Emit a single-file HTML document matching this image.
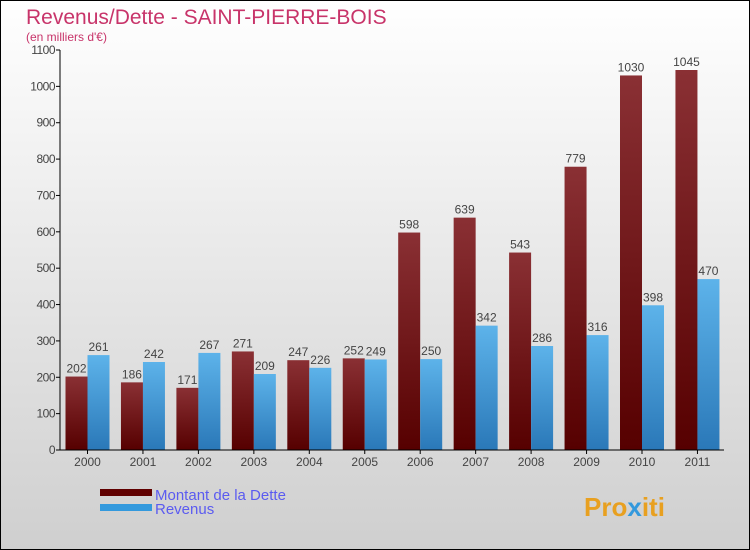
<!DOCTYPE html>
<html><head><meta charset="utf-8"><style>
body{margin:0}
#c{width:750px;height:550px;position:relative;overflow:hidden}
text{font-family:"Liberation Sans",sans-serif}
</style></head><body>
<div id="c">
<svg id="s" width="750" height="550" xmlns="http://www.w3.org/2000/svg">
<defs>
<linearGradient id="bg" x1="0" y1="0" x2="0" y2="1"><stop offset="0" stop-color="#ffffff"/><stop offset="1" stop-color="#cfcfcf"/></linearGradient>
<linearGradient id="gd" x1="0" y1="0" x2="0" y2="1"><stop offset="0" stop-color="#8a3034"/><stop offset="1" stop-color="#560000"/></linearGradient>
<linearGradient id="gr" x1="0" y1="0" x2="0" y2="1"><stop offset="0" stop-color="#5db3ea"/><stop offset="1" stop-color="#2a78b8"/></linearGradient>
</defs>
<rect x="0.5" y="0.5" width="749" height="549" fill="url(#bg)" stroke="#000"/>
<text x="26" y="24" font-size="21" fill="#c8346a">Revenus/Dette - SAINT-PIERRE-BOIS</text>
<text x="26" y="41" font-size="12" fill="#c8346a">(en milliers d'€)</text>
<g id="plot"></g>
<rect x="100" y="489" width="52" height="7" fill="#600000"/>
<rect x="100" y="504" width="52" height="7" fill="#3399dd"/>
<text x="155" y="500" font-size="15" fill="#5b5bf0">Montant de la Dette</text>
<text x="155" y="514" font-size="15" fill="#5b5bf0">Revenus</text>
<text x="584" y="516" font-size="26" font-weight="bold" fill="#e8a020">Pro<tspan fill="#3399dd">x</tspan>iti</text>
</svg></div>
<script>
const years=["2000","2001","2002","2003","2004","2005","2006","2007","2008","2009","2010","2011"];
const dette=[202,186,171,271,247,252,598,639,543,779,1030,1045];
const revenus=[261,242,267,209,226,249,250,342,286,316,398,470];
const ticks=[0,100,200,300,400,500,600,700,800,900,1000,1100];
const NS="http://www.w3.org/2000/svg";
const g=document.getElementById('plot');
const y=v=>450-v*400/1100;
const xc=i=>87.5+i*55.45;
const bw=22;
function mk(t,a){const e=document.createElementNS(NS,t);for(const k in a)e.setAttribute(k,a[k]);g.appendChild(e);return e;}
ticks.forEach(t=>{
 const l=mk('line',{x1:56,x2:60,y1:y(t),y2:y(t),stroke:'#000'});
 
 
 const tx=mk('text',{x:55,y:y(t)+4,'font-size':12,fill:'#444','text-anchor':'end','letter-spacing':'-0.5'});
 tx.textContent=t;
 
 
});
years.forEach((yr,i)=>{
 const c=xc(i);
 const d=mk('rect',{x:c-bw,y:y(dette[i]),width:bw,height:450-y(dette[i]),fill:'url(#gd)'});
 
 
 const r=mk('rect',{x:c,y:y(revenus[i]),width:bw,height:450-y(revenus[i]),fill:'url(#gr)'});
 
 
 const dl=mk('text',{x:c-bw/2,y:y(dette[i])-4,'font-size':12,fill:'#444','text-anchor':'middle'});
 dl.textContent=dette[i];
 
 
 const rl=mk('text',{x:c+bw/2,y:y(revenus[i])-4,'font-size':12,fill:'#444','text-anchor':'middle'});
 rl.textContent=revenus[i];
 
 
 const tk=mk('line',{x1:c,x2:c,y1:450,y2:454,stroke:'#000'});
 
 
 const xl=mk('text',{x:c,y:466,'font-size':12,fill:'#444','text-anchor':'middle'});
 xl.textContent=yr;
 
 
});
const ya=mk('line',{x1:60,x2:60,y1:y(1100),y2:450,stroke:'#000'});


const xa=mk('line',{x1:60,x2:724,y1:450,y2:450,stroke:'#000'});


</script>
</body></html>
